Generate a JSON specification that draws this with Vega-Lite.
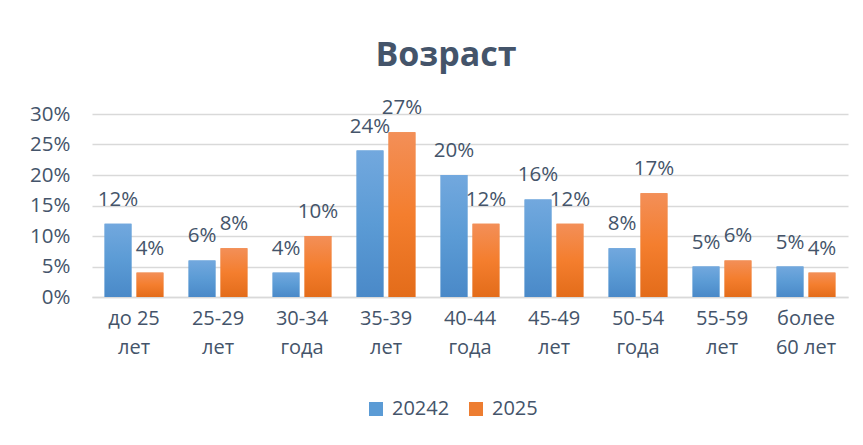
{
  "$schema": "https://vega.github.io/schema/vega-lite/v6.json",
  "autosize": "none",
  "width": 756,
  "height": 183,
  "padding": {"left": 92, "top": 114, "right": 15, "bottom": 148},
  "background": "white",
  "title": {
    "text": "Возраст",
    "font": "Open Sans",
    "fontSize": 34,
    "fontWeight": "bold",
    "color": "#44546A",
    "anchor": "middle",
    "frame": "group",
    "dx": -24,
    "offset": 25
  },
  "config": {
    "view": {"stroke": null},
    "font": "Open Sans"
  },
  "data": {
    "values": [
      {"age": "до 25 лет", "year": "20242", "share": 0.12},
      {"age": "до 25 лет", "year": "2025", "share": 0.04},
      {"age": "25-29 лет", "year": "20242", "share": 0.06},
      {"age": "25-29 лет", "year": "2025", "share": 0.08},
      {"age": "30-34 года", "year": "20242", "share": 0.04},
      {"age": "30-34 года", "year": "2025", "share": 0.10},
      {"age": "35-39 лет", "year": "20242", "share": 0.24},
      {"age": "35-39 лет", "year": "2025", "share": 0.27},
      {"age": "40-44 года", "year": "20242", "share": 0.20},
      {"age": "40-44 года", "year": "2025", "share": 0.12},
      {"age": "45-49 лет", "year": "20242", "share": 0.16},
      {"age": "45-49 лет", "year": "2025", "share": 0.12},
      {"age": "50-54 года", "year": "20242", "share": 0.08},
      {"age": "50-54 года", "year": "2025", "share": 0.17},
      {"age": "55-59 лет", "year": "20242", "share": 0.05},
      {"age": "55-59 лет", "year": "2025", "share": 0.06},
      {"age": "более 60 лет", "year": "20242", "share": 0.05},
      {"age": "более 60 лет", "year": "2025", "share": 0.04}
    ]
  },
  "encoding": {
    "x": {
      "field": "age",
      "type": "nominal",
      "sort": null,
      "scale": {"paddingInner": 0.3, "paddingOuter": 0.15},
      "axis": {
        "title": null,
        "labelAngle": 0,
        "ticks": false,
        "domainColor": "#D9D9D9",
        "domainWidth": 1.5,
        "labelFont": "Open Sans",
        "labelFontSize": 20,
        "labelColor": "#44546A",
        "labelPadding": 11,
        "labelLineHeight": 29,
        "labelBaseline": "top",
        "labelExpr": "datum.label == 'более 60 лет' ? ['более', '60 лет'] : [substring(datum.label, 0, lastindexof(datum.label, ' ')), substring(datum.label, lastindexof(datum.label, ' ') + 1)]"
      }
    },
    "xOffset": {
      "field": "year",
      "type": "nominal",
      "scale": {"paddingInner": 0.16, "paddingOuter": 0}
    },
    "y": {
      "field": "share",
      "type": "quantitative",
      "scale": {"domain": [0, 0.3]},
      "axis": {
        "title": null,
        "values": [0, 0.05, 0.1, 0.15, 0.2, 0.25, 0.3],
        "format": ".0%",
        "domain": false,
        "ticks": false,
        "gridColor": "#D9D9D9",
        "gridWidth": 1.5,
        "labelFont": "Open Sans",
        "labelFontSize": 20.5,
        "labelColor": "#44546A",
        "labelPadding": 22
      }
    }
  },
  "layer": [
    {
      "mark": {"type": "bar"},
      "encoding": {
        "color": {
          "field": "year",
          "type": "nominal",
          "scale": {"domain": ["20242", "2025"], "range": ["#5B9BD5", "#ED7D31"]},
          "legend": {
            "title": null,
            "orient": "none",
            "legendX": 274,
            "legendY": 285,
            "direction": "horizontal",
            "symbolType": "square",
            "symbolSize": 196,
            "symbolStrokeWidth": 0,
            "labelFont": "Open Sans",
            "labelFontSize": 20,
            "labelColor": "#44546A",
            "labelOffset": 6,
            "columnPadding": 16
          }
        }
      }
    },
    {
      "transform": [{"filter": "datum.year == '20242'"}],
      "mark": {
        "type": "bar",
        "fill": {
          "gradient": "linear",
          "x1": 0, "y1": 0, "x2": 0, "y2": 1,
          "stops": [
            {"offset": 0, "color": "#72A8DE"},
            {"offset": 0.5, "color": "#5B9BD5"},
            {"offset": 1, "color": "#4A89C8"}
          ]
        }
      }
    },
    {
      "transform": [{"filter": "datum.year == '2025'"}],
      "mark": {
        "type": "bar",
        "fill": {
          "gradient": "linear",
          "x1": 0, "y1": 0, "x2": 0, "y2": 1,
          "stops": [
            {"offset": 0, "color": "#F38F58"},
            {"offset": 0.5, "color": "#F47E2E"},
            {"offset": 1, "color": "#E36C1A"}
          ]
        }
      }
    },
    {
      "mark": {
        "type": "text",
        "baseline": "middle",
        "dy": -24,
        "font": "Open Sans",
        "fontSize": 20.5,
        "color": "#44546A"
      },
      "encoding": {
        "text": {"field": "share", "type": "quantitative", "format": ".0%"},
        "detail": {"field": "year"}
      }
    }
  ]
}
